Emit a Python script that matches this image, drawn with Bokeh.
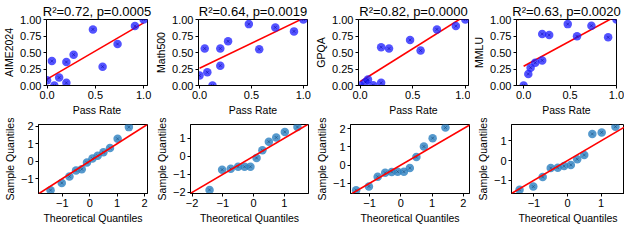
from bokeh.plotting import figure
from bokeh.layouts import column, row
from bokeh.models import FixedTicker, NumeralTickFormatter, Slope, Range1d
from bokeh.embed import file_html
from bokeh.resources import INLINE
import numpy as np

# ---------------- data ----------------
pass_rate = [0.0, 0.05, 0.075, 0.125, 0.2, 0.2, 0.275, 0.475, 0.575, 0.73, 0.91, 1.0]
aime2024 = [0.08, 0.37, 0.0, 0.12, 0.355, 0.04, 0.467, 0.85, 0.285, 0.628, 0.90, 1.0]
math500 = [0.15, 0.56, 0.20, 0.0, 0.30, 0.56, 0.67, 0.93, 0.55, 0.88, 0.82, 1.0]
gpqa = [0.0, 0.05, 0.09, 0.005, 0.04, 0.58, 0.56, 0.69, 0.53, 0.85, 0.90, 1.0]
mmlu = [0.0, 0.175, 0.27, 0.345, 0.38, 0.78, 0.765, 0.93, 0.745, 0.905, 0.73, 1.0]

benchmarks = ["AIME2024", "Math500", "GPQA", "MMLU"]
titles = ["R²=0.72, p=0.0005", "R²=0.64, p=0.0019", "R²=0.82, p=0.0000", "R²=0.63, p=0.0020"]

theoretical_q = [-1.43, -1.02, -0.74, -0.50, -0.29, -0.10, 0.10, 0.29, 0.50, 0.74, 1.02, 1.43]
sample_q_aime = [-1.66, -1.25, -0.87, -0.54, -0.46, -0.08, 0.15, 0.31, 0.51, 0.75, 1.28, 1.95]
sample_q_math = [-1.86, -0.74, -0.69, -0.58, -0.58, -0.58, -0.09, 0.33, 0.81, 1.04, 1.35, 1.62]
sample_q_gpqa = [-1.375, -1.17, -0.64, -0.42, -0.375, -0.36, -0.36, -0.16, 0.44, 1.02, 1.48, 2.06]
sample_q_mmlu = [-1.48, -1.32, -0.83, -0.38, -0.36, -0.28, -0.22, 0.07, 0.28, 1.35, 1.43, 1.72]

pr_ticks = [0.0, 0.5, 1.0]
score_ticks = [0.0, 0.25, 0.5, 0.75, 1.0]

top_y = [aime2024, math500, gpqa, mmlu]
bottom_y = [sample_q_aime, sample_q_math, sample_q_gpqa, sample_q_mmlu]

# ---------------- layout / style ----------------
FONT = "Liberation Sans"
TICK_FS = "11px"
LABEL_FS = "10.5px"
TITLE_FS = "13px"

top_x_ranges = [(-0.006, 1.04), (-0.01, 1.04), (-0.015, 1.03), (-0.077, 1.0)]
top_geom = [  # width, left border, right border
    (152, 39, 5), (160, 42, 5), (158, 42, 2), (154, 38, 8)]
bot_x_ranges = [(-1.87, 2.11), (-2.05, 1.79), (-1.61, 2.2), (-1.67, 1.7)]
bot_y_ranges = [(-1.85, 2.1), (-2.06, 1.76), (-1.56, 2.23), (-1.67, 1.83)]
bot_ticks = [[-1, 0, 1, 2], [-2, -1, 0, 1], [-1, 0, 1, 2], [-1, 0, 1]]
bot_geom = [(152, 36, 5), (160, 38, 4), (158, 38, 1), (154, 41, 0)]

minus = {-1: "\u22121", -2: "\u22122"}


def style(p):
    p.outline_line_color = "black"
    p.outline_line_width = 1
    p.outline_line_alpha = 1
    p.xgrid.visible = False
    p.ygrid.visible = False
    for ax in (p.xaxis[0], p.yaxis[0]):
        ax.axis_line_color = "black"
        ax.major_tick_line_color = "black"
        ax.major_tick_out = 3
        ax.major_tick_in = 0
        ax.minor_tick_line_color = None
        ax.major_label_text_font = FONT
        ax.major_label_text_font_size = TICK_FS
        ax.major_label_text_color = "black"
        ax.major_label_standoff = 2
        ax.axis_label_text_font = FONT
        ax.axis_label_text_font_size = LABEL_FS
        ax.axis_label_text_font_style = "normal"
        ax.axis_label_text_color = "black"
        ax.axis_label_standoff = 2
    p.background_fill_color = "white"
    p.border_fill_color = "white"


top_figs = []
for i in range(4):
    w, bl, br = top_geom[i]
    p = figure(width=w, height=118, output_backend="svg", toolbar_location=None,
               x_range=Range1d(*top_x_ranges[i]), y_range=Range1d(0, 1),
               min_border_left=bl, min_border_right=br, min_border_top=15, min_border_bottom=27,
               title=titles[i])
    p.title.text_font = FONT
    p.title.text_font_size = TITLE_FS
    p.title.text_font_style = "normal"
    p.title.text_color = "black"
    p.title.align = "center"
    p.title.standoff = 2
    style(p)
    p.xaxis.axis_label = "Pass Rate"
    p.yaxis.axis_label = benchmarks[i]
    p.xaxis.ticker = FixedTicker(ticks=pr_ticks)
    p.yaxis.ticker = FixedTicker(ticks=score_ticks)
    p.xaxis.formatter = NumeralTickFormatter(format="0.0")
    p.yaxis.formatter = NumeralTickFormatter(format="0.00")
    ys = top_y[i]
    slope, intercept = np.polyfit(pass_rate, ys, 1)
    xl = [min(pass_rate), max(pass_rate)]
    p.line(xl, [intercept + slope * v for v in xl], line_color="red", line_width=1.6)
    p.scatter(pass_rate, ys, size=8.5, fill_color="#1a1aff", fill_alpha=0.75, line_color=None)
    p.scatter(pass_rate, ys, marker="x", size=4, line_color="#0000a0", line_alpha=0.5, line_width=1)
    top_figs.append(p)

bot_figs = []
for i in range(4):
    w, bl, br = bot_geom[i]
    p = figure(width=w, height=108, output_backend="svg", toolbar_location=None,
               x_range=Range1d(*bot_x_ranges[i]), y_range=Range1d(*bot_y_ranges[i]),
               min_border_left=bl, min_border_right=br, min_border_top=6, min_border_bottom=27)
    style(p)
    p.xaxis.axis_label = "Theoretical Quantiles"
    p.yaxis.axis_label = "Sample Quantiles"
    p.xaxis.ticker = FixedTicker(ticks=bot_ticks[i])
    p.yaxis.ticker = FixedTicker(ticks=bot_ticks[i])
    p.xaxis.major_label_overrides = minus
    p.yaxis.major_label_overrides = minus
    p.add_layout(Slope(gradient=1, y_intercept=0, line_color="red", line_width=1.6))
    ys = bottom_y[i]
    p.scatter(theoretical_q, ys, size=8.5, fill_color="#2a7fc0", fill_alpha=0.8, line_color=None)
    p.scatter(theoretical_q, ys, marker="x", size=4, line_color="#0a3d70", line_alpha=0.5, line_width=1)
    bot_figs.append(p)

layout = column(row(*top_figs, spacing=0), row(*bot_figs, spacing=0), spacing=0)
open("out.html", "w").write(file_html(layout, INLINE))
